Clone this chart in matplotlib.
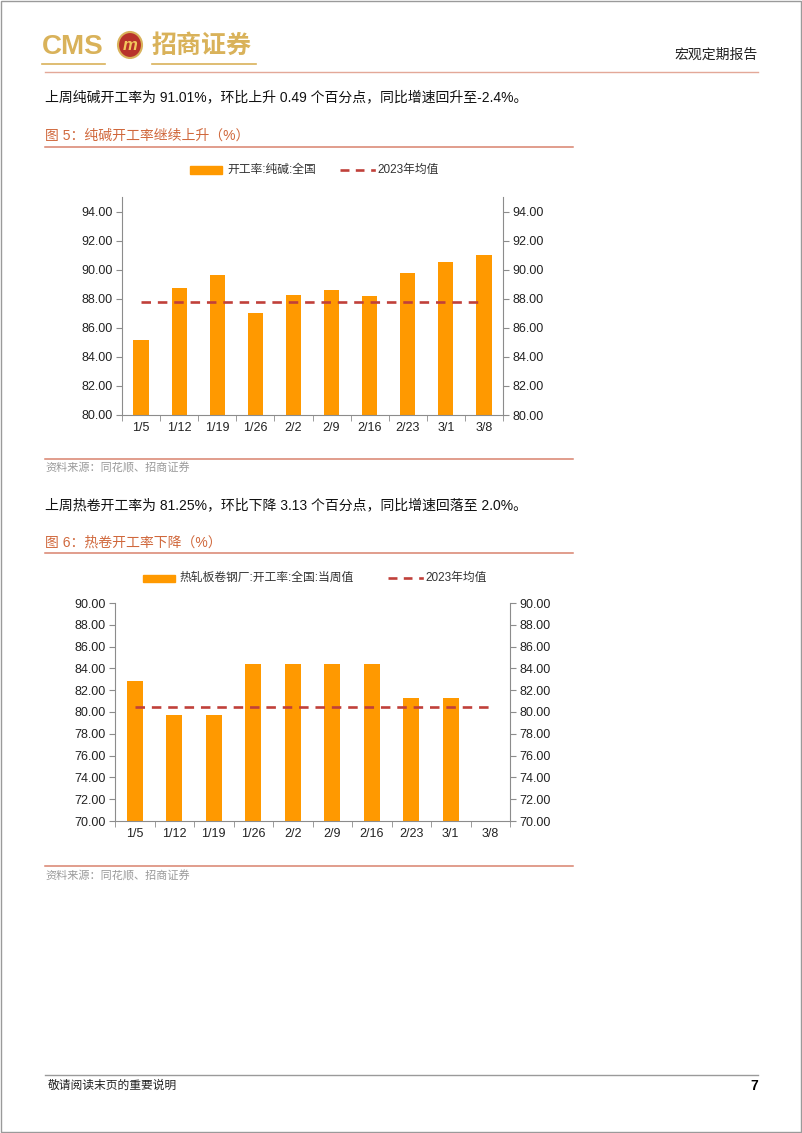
import matplotlib.pyplot as plt
import numpy as np
from matplotlib.lines import Line2D
from matplotlib.patches import Rectangle, Ellipse

plt.rcParams['font.family'] = ['Liberation Sans', 'Noto Sans CJK SC', 'DejaVu Sans']
plt.rcParams['axes.unicode_minus'] = False

W, H = 802, 1133

# data
weeks = ['1/5', '1/12', '1/19', '1/26', '2/2', '2/9', '2/16', '2/23', '3/1', '3/8']
soda_rate = [85.15, 88.75, 89.60, 87.00, 88.25, 88.58, 88.20, 89.80, 90.52, 91.01]
soda_avg_2023 = 87.78
hrc_rate = [82.85, 79.68, 79.68, 84.38, 84.38, 84.38, 84.38, 81.25, 81.25, np.nan]
hrc_avg_2023 = 80.43

BAR = '#FF9900'
DASH = '#C0403A'
TITLE = '#D0683C'
RULE = '#D9826E'
AXC = '#8C8C8C'
GOLD = '#D9B25A'


def fx(x):
    return x / W


def fy(y):
    return 1 - y / H


def hline(fig, x0, x1, y, color, lw=1.0):
    fig.add_artist(Line2D([fx(x0), fx(x1)], [fy(y), fy(y)], color=color, lw=lw,
                          transform=fig.transFigure))


def draw_chart(fig, box, values, avg, ylim, yticks, bar_label, legend_y, legend_x, dash_x):
    left, top, right, bottom = box
    ax = fig.add_axes([fx(left), fy(bottom), fx(right) - fx(left), fy(top) - fy(bottom)])
    x = np.arange(len(weeks))
    ax.bar(x, values, width=0.4, color=BAR, zorder=2)
    ax.plot(x, [avg] * len(x), color=DASH, lw=1.9, dashes=(3.6, 2.6), zorder=3)
    ax.set_xlim(-0.5, len(weeks) - 0.5)
    ax.set_ylim(*ylim)
    ax.set_yticks(yticks)
    ax.set_yticklabels([f'{v:.2f}' for v in yticks])
    ax.set_xticks(x)
    ax.set_xticklabels(weeks)
    ax.set_xticks(np.arange(-0.5, len(weeks), 1.0), minor=True)
    ax.tick_params(axis='x', which='major', length=0, labelsize=9, pad=5, colors='#222222')
    ax.tick_params(axis='x', which='minor', length=4, color=AXC, direction='out')
    ax.tick_params(axis='y', length=4, color=AXC, labelsize=9, pad=3, labelcolor='#222222')
    for s in ['top', 'right']:
        ax.spines[s].set_visible(False)
    for s in ['left', 'bottom']:
        ax.spines[s].set_color(AXC)
    ax2 = ax.twinx()
    ax2.set_ylim(*ylim)
    ax2.set_yticks(yticks)
    ax2.set_yticklabels([f'{v:.2f}' for v in yticks])
    ax2.tick_params(axis='y', length=4, color=AXC, labelsize=9, pad=3, labelcolor='#222222')
    for s in ['top', 'left', 'bottom']:
        ax2.spines[s].set_visible(False)
    ax2.spines['right'].set_color(AXC)

    # legend drawn in figure space
    lx = legend_x
    fig.add_artist(Rectangle((fx(lx), fy(legend_y + 3.5)), fx(32), 7 / H, color=BAR,
                             transform=fig.transFigure))
    fig.text(fx(lx + 37), fy(legend_y), bar_label, fontsize=8.5, va='center', color='#333333')
    fig.add_artist(Line2D([fx(dash_x), fx(dash_x + 24)], [fy(legend_y)] * 2, color=DASH,
                          lw=1.9, dashes=(3.4, 2.4), transform=fig.transFigure))
    fig.add_artist(Line2D([fx(dash_x + 32), fx(dash_x + 34)], [fy(legend_y)] * 2, color=DASH,
                          lw=1.9, transform=fig.transFigure))
    fig.text(fx(dash_x + 37), fy(legend_y), '2023年均值', fontsize=8.5, va='center',
             color='#333333')
    return ax


fig = plt.figure(figsize=(W / 100, H / 100), dpi=100)
fig.patch.set_facecolor('white')

# page border
fig.add_artist(Rectangle((0.001, 0.001), 0.998, 0.998, fill=False, ec='#9a9a9a', lw=1,
                         transform=fig.transFigure))

# header
fig.text(fx(42), fy(47), 'CMS', fontsize=20, color=GOLD, fontweight='bold', va='center',
         family=['Liberation Sans'])
fig.add_artist(Ellipse((fx(130), fy(45)), 24 / W, 26 / H, fc='#B8322A', ec=GOLD, lw=1.5,
                       transform=fig.transFigure))
fig.text(fx(130), fy(46), 'm', fontsize=12, color='#F2C75C', fontweight='bold',
         ha='center', va='center', style='italic')
fig.text(fx(152), fy(46), '招商证券', fontsize=18, color=GOLD, fontweight='bold', va='center',
         family=['Noto Sans CJK SC'])
hline(fig, 42, 105, 64, GOLD, lw=1.2)
hline(fig, 152, 256, 64, GOLD, lw=1.2)
fig.text(fx(758), fy(55), '宏观定期报告', fontsize=10, ha='right', va='center', color='#222222')
hline(fig, 45, 758, 72, '#E3A898', lw=1.0)

# paragraph 1 and chart 1
fig.text(fx(45), fy(97), '上周纯碱开工率为 91.01%，环比上升 0.49 个百分点，同比增速回升至-2.4%。',
         fontsize=10, va='center', color='#111111')
fig.text(fx(45), fy(136), '图 5：纯碱开工率继续上升（%）', fontsize=10, va='center', color=TITLE)
hline(fig, 45, 573, 147, RULE, lw=1.1)
draw_chart(fig, (122, 197, 503, 415), soda_rate, soda_avg_2023, (80, 95),
           np.arange(80, 95, 2.0), '开工率:纯碱:全国', 170, 190, 340)
hline(fig, 45, 573, 459, RULE, lw=1.1)
fig.text(fx(45), fy(468), '资料来源：同花顺、招商证券', fontsize=8, va='center', color='#9a9a9a')

# paragraph 2 and chart 2
fig.text(fx(45), fy(505), '上周热卷开工率为 81.25%，环比下降 3.13 个百分点，同比增速回落至 2.0%。',
         fontsize=10, va='center', color='#111111')
fig.text(fx(45), fy(543), '图 6：热卷开工率下降（%）', fontsize=10, va='center', color=TITLE)
hline(fig, 45, 573, 553, RULE, lw=1.1)
draw_chart(fig, (115, 603, 510, 821), hrc_rate, hrc_avg_2023, (70, 90),
           np.arange(70, 90.1, 2.0), '热轧板卷钢厂:开工率:全国:当周值', 578, 143, 388)
hline(fig, 45, 573, 866, RULE, lw=1.1)
fig.text(fx(45), fy(876), '资料来源：同花顺、招商证券', fontsize=8, va='center', color='#9a9a9a')

# footer
hline(fig, 45, 758, 1075, '#9a9a9a', lw=1.0)
fig.text(fx(48), fy(1086), '敬请阅读末页的重要说明', fontsize=8.5, va='center', color='#222222')
fig.text(fx(758), fy(1086), '7', fontsize=10, fontweight='bold', ha='right', va='center')

fig.savefig('out.png', dpi=100, facecolor='white')
